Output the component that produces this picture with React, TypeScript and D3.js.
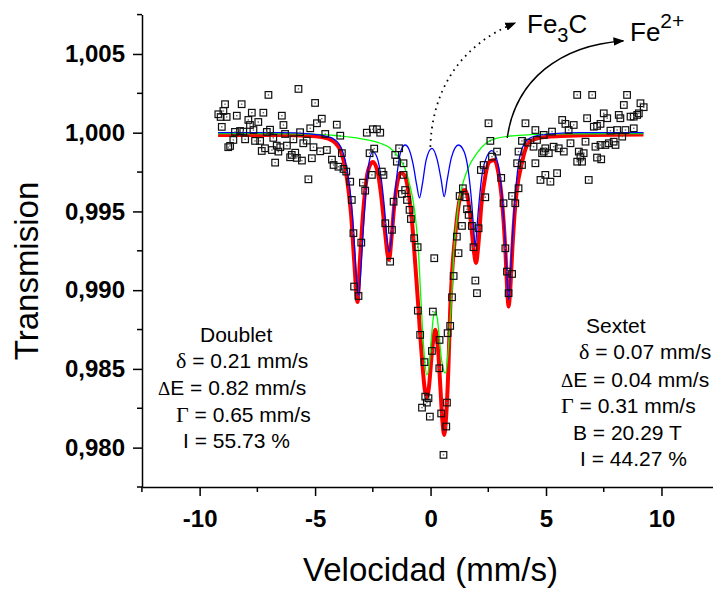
import React, { useEffect, useRef } from 'react';
import * as d3 from 'd3';

// measured spectrum: [velocity mm/s, transmission]
const measured: [number, number][] = [
  [-5.72, 1.00278], [-7.02, 1.0024], [-8.9, 1.00181], [-8.18, 1.00181], [-5.0, 1.00189], [-8.97, 1.00138], [-9.19, 1.00117], [-9.09, 1.001], [-8.83, 1.001], [-8.39, 1.00108],
  [-7.74, 1.00127], [-7.24, 1.00127], [-6.44, 1.00108], [-7.89, 1.00081], [-7.46, 1.00068], [-4.71, 1.00089], [-4.92, 1.0006], [-7.82, 1.00049], [-6.37, 1.00049], [-4.06, 1.00051],
  [-9.04, 1.00037], [-7.67, 1.00017], [-6.95, 1.00019], [-5.21, 1.00028], [-8.47, 1.00005], [-8.25, 1.00011], [-8.11, 1.00007], [-7.09, 1.00005], [-6.3, 0.99992], [-5.65, 1.00003],
  [-4.56, 0.99992], [-3.91, 0.99981], [-8.54, 0.99954], [-8.03, 0.99958], [-7.6, 0.99948], [-7.38, 0.99948], [-6.81, 0.99967], [-5.94, 0.99958], [-5.36, 0.9995], [-5.51, 0.99933],
  [-8.68, 0.99916], [-8.76, 0.99908], [-7.17, 0.99901], [-6.66, 0.99918], [-6.51, 0.99908], [-6.22, 0.99918], [-5.86, 0.99873], [-5.07, 0.99908], [-4.78, 0.99882], [-4.49, 0.9989],
  [-7.31, 0.99884], [-6.87, 0.9989], [-6.59, 0.9988], [-6.01, 0.99859], [-5.79, 0.9984], [-6.08, 0.99844], [-5.57, 0.99823], [-5.14, 0.99838], [-6.73, 0.9981], [-4.27, 0.99829],
  [-4.2, 0.99795], [-3.99, 0.99784], [-3.77, 0.9977], [-5.29, 0.99704],
  [-3.84, 0.9987], [-3.65, 0.99753], [-3.48, 0.99689], [-3.41, 0.99573], [-3.34, 0.99362], [-3.31, 0.99023], [-3.12, 0.98963], [-3.0, 0.99302], [-2.93, 0.99683], [-2.83, 0.99632],
  [-2.54, 0.99732], [-2.64, 0.9987], [-2.44, 0.99899], [-2.76, 1.0], [-2.5, 1.00022], [-2.32, 1.00022], [-2.18, 1.0], [-2.11, 0.99753], [-2.04, 0.99732], [-1.96, 0.99425],
  [-1.67, 0.99383], [-1.6, 0.99562], [-1.75, 0.99181], [-1.46, 0.99816], [-1.53, 0.99859], [-1.36, 0.99901], [-1.17, 0.99806], [-1.17, 0.99732], [-1.24, 0.99611], [-1.1, 0.99636],
  [-1.02, 0.99573], [-0.91, 0.9951], [-0.85, 0.99452], [-0.71, 0.9933], [-0.56, 0.99273], [0.16, 0.99203], [-0.55, 0.9887], [0.1, 0.98864],
  [-0.45, 0.98716], [-0.26, 0.98543], [0.06, 0.98614], [0.38, 0.98504], [-0.23, 0.98324], [-0.09, 0.98314], [-0.16, 0.98286], [-0.37, 0.98254], [-0.03, 0.98197], [0.46, 0.98217],
  [0.39, 0.98684], [0.74, 0.98727], [0.85, 0.98773], [0.71, 0.98286], [0.68, 0.98134], [0.56, 0.97954],
  [2.51, 1.0006], [2.59, 0.99948], [2.66, 0.99848], [2.88, 0.9988], [2.3, 0.99795], [2.18, 0.99763], [3.06, 0.99713], [1.4, 0.99647], [1.26, 0.99598], [1.5, 0.9959],
  [2.37, 0.9959], [1.58, 0.99514], [1.65, 0.99478], [1.36, 0.99408], [1.79, 0.99408], [2.08, 0.99393], [1.14, 0.9934], [1.21, 0.99235], [1.86, 0.99273], [1.0, 0.9909],
  [1.94, 0.99061], [2.01, 0.98981], [0.93, 0.98955], [3.16, 0.99552], [3.24, 0.99266], [3.31, 0.99118], [3.53, 0.99103], [3.38, 0.98981], [3.67, 0.99552], [3.53, 0.99598],
  [3.81, 0.99647], [3.75, 0.99806], [3.96, 0.99795], [3.81, 0.9988], [3.96, 0.99948], [4.2, 0.99937],
  [4.11, 1.0006], [4.54, 1.00017], [4.9, 0.99986], [5.26, 1.00007], [5.7, 1.00081], [5.84, 1.00056], [5.98, 1.00017], [6.2, 1.00049], [6.35, 1.0024], [7.0, 1.0024],
  [6.78, 1.00092], [7.07, 1.00038], [7.21, 1.00043], [7.36, 1.00056], [7.5, 1.00123], [7.65, 1.00092], [7.79, 1.00013], [8.08, 1.00017], [8.15, 1.00113], [8.22, 1.00092],
  [8.37, 1.00176], [8.51, 1.0024], [8.66, 1.00102], [8.8, 1.00102], [8.95, 1.00113], [9.02, 1.00123], [9.09, 1.00187], [9.23, 1.00162], [8.44, 1.00017], [8.8, 1.00028],
  [8.3, 0.99975], [4.97, 0.99901], [5.33, 0.99911], [5.55, 0.99901], [5.77, 0.9988], [4.61, 0.99954], [4.46, 0.99911], [4.9, 0.9988], [4.83, 0.9987], [5.12, 0.9987],
  [4.54, 0.99806], [5.48, 0.99743], [4.97, 0.99732], [4.76, 0.997], [5.19, 0.99689], [6.06, 0.99933], [6.42, 0.9988], [6.49, 0.99848], [6.71, 0.99943], [7.14, 0.99911],
  [7.36, 0.99922], [7.57, 0.99922], [7.72, 0.99933], [7.93, 0.99943], [8.01, 0.99922], [6.63, 0.9987], [6.35, 0.99816], [6.56, 0.99816], [7.21, 0.99842], [7.39, 0.99831],
  [6.85, 0.997],
];

// sextet subspectrum (blue)
const sextetFit: [number, number][] = [
  [-9.2, 1.0], [-6.51, 1.0], [-5.21, 0.99992], [-4.56, 0.99979], [-4.13, 0.99954], [-3.83, 0.9989], [-3.61, 0.99763], [-3.44, 0.99573], [-3.31, 0.99319], [-3.22, 0.99097],
  [-3.12, 0.98957], [-3.03, 0.99097], [-2.94, 0.99319], [-2.83, 0.99573], [-2.7, 0.99776], [-2.5, 0.9988], [-2.31, 0.9984], [-2.14, 0.99713], [-1.99, 0.9951], [-1.88, 0.99319],
  [-1.79, 0.99243], [-1.7, 0.99319], [-1.6, 0.9951], [-1.44, 0.99751], [-1.27, 0.9989], [-1.1, 0.99922], [-0.92, 0.9989], [-0.75, 0.99795], [-0.6, 0.99668], [-0.48, 0.99586],
  [-0.36, 0.99668], [-0.19, 0.99827], [0.06, 0.99901], [0.29, 0.99827], [0.46, 0.997], [0.59, 0.99594], [0.72, 0.997], [0.9, 0.9984], [1.21, 0.99922], [1.46, 0.99878],
  [1.63, 0.99763], [1.79, 0.99541], [1.87, 0.99383], [1.94, 0.99277], [2.0, 0.99383], [2.11, 0.99573], [2.28, 0.99776], [2.66, 0.99886], [2.93, 0.99795], [3.11, 0.99573],
  [3.24, 0.99287], [3.32, 0.99065], [3.38, 0.98938], [3.45, 0.99065], [3.54, 0.99319], [3.67, 0.99605], [3.8, 0.99795], [3.97, 0.99903], [4.19, 0.99954], [4.54, 0.99979],
  [5.19, 0.99992], [6.49, 1.0], [9.22, 1.0],
];

// doublet subspectrum (green)
const doubletFit: [number, number][] = [
  [-9.2, 0.99995], [-5.65, 0.99992], [-3.92, 0.99979], [-3.05, 0.99963], [-2.18, 0.99933], [-1.75, 0.99903], [-1.31, 0.99827], [-1.05, 0.99751], [-0.88, 0.99656], [-0.74, 0.99554],
  [-0.62, 0.99414], [-0.52, 0.99237], [-0.45, 0.99033], [-0.37, 0.98811], [-0.29, 0.98621], [-0.16, 0.98462], [-0.06, 0.98525], [0.03, 0.98684], [0.12, 0.98824], [0.2, 0.98864],
  [0.29, 0.98824], [0.38, 0.98697], [0.49, 0.98544], [0.64, 0.98473], [0.75, 0.98589], [0.85, 0.98811], [0.93, 0.99002], [1.0, 0.99224], [1.11, 0.99414], [1.22, 0.99554],
  [1.36, 0.99656], [1.63, 0.99776], [2.01, 0.99871], [2.41, 0.99935], [2.88, 0.99965], [3.45, 0.99979], [4.18, 0.99986], [5.62, 0.99992], [9.22, 0.99995],
];

// total fit (red)
const totalFit: [number, number][] = [
  [-9.2, 0.99986], [-6.51, 0.99986], [-5.21, 0.99979], [-4.56, 0.99967], [-4.13, 0.99935], [-3.83, 0.99859], [-3.61, 0.997], [-3.44, 0.99478], [-3.31, 0.99192], [-3.16, 0.98925],
  [-3.07, 0.9916], [-2.96, 0.99414], [-2.83, 0.99636], [-2.7, 0.99763], [-2.5, 0.99814], [-2.31, 0.99763], [-2.14, 0.99605], [-1.99, 0.99395], [-1.8, 0.99192], [-1.68, 0.99351],
  [-1.57, 0.99541], [-1.44, 0.99681], [-1.31, 0.99744], [-1.14, 0.99732], [-0.97, 0.99636], [-0.79, 0.99414], [-0.66, 0.9916], [-0.52, 0.98875], [-0.45, 0.98716], [-0.34, 0.98506],
  [-0.25, 0.98367], [-0.16, 0.98316], [-0.06, 0.98398], [0.05, 0.98589], [0.2, 0.98748], [0.31, 0.98652], [0.42, 0.98398], [0.51, 0.98176], [0.59, 0.98081], [0.68, 0.98208],
  [0.77, 0.98494], [0.85, 0.98875], [0.94, 0.99129], [1.07, 0.99351], [1.2, 0.99522], [1.33, 0.99617], [1.5, 0.99636], [1.63, 0.99573], [1.76, 0.99414], [1.87, 0.99256],
  [1.97, 0.99173], [2.07, 0.99287], [2.2, 0.99541], [2.38, 0.99732], [2.54, 0.99814], [2.76, 0.99827], [2.93, 0.99751], [3.11, 0.99541], [3.24, 0.99256], [3.32, 0.99002],
  [3.38, 0.98896], [3.45, 0.99002], [3.54, 0.99256], [3.67, 0.99541], [3.8, 0.997], [3.89, 0.99763], [4.06, 0.99871], [4.23, 0.99935], [4.54, 0.9996], [4.98, 0.99973],
  [5.63, 0.99979], [6.93, 0.99986], [9.22, 0.99989],
];

const xTicks = [-10, -5, 0, 5, 10];
const xMinorTicks = [-12.5, -7.5, -2.5, 2.5, 7.5, 12.5];
const yTicks = [0.98, 0.985, 0.99, 0.995, 1.0, 1.005];
const yMinorTicks = [0.9775, 0.9825, 0.9875, 0.9925, 0.9975, 1.0025, 1.0075];

const doubletLines = [
  { greek: '', text: 'Doublet' },
  { greek: 'δ', text: ' = 0.21 mm/s' },
  { greek: 'Δ', text: 'E = 0.82 mm/s' },
  { greek: 'Γ', text: ' = 0.65 mm/s' },
  { greek: '', text: 'I = 55.73 %' },
];
const sextetLines = [
  { greek: '', text: 'Sextet' },
  { greek: 'δ', text: ' = 0.07 mm/s' },
  { greek: 'Δ', text: 'E = 0.04 mm/s' },
  { greek: 'Γ', text: ' = 0.31 mm/s' },
  { greek: '', text: 'B = 20.29 T' },
  { greek: '', text: 'I = 44.27 %' },
];

const FONT = '"Liberation Sans", Arial, sans-serif';

const App = () => {
  const svgRef = useRef<SVGSVGElement>(null);

  useEffect(() => {
    if (!svgRef.current) return;
    const svg = d3.select(svgRef.current);
    svg.selectAll('*').remove();
    svg.style('font-family', FONT);

    const x = d3.scaleLinear().domain([-12.5, 12.5]).range([141.9, 719.2]);
    const y = d3.scaleLinear().domain([0.9775, 1.0075]).range([487, 14.6]);

    // arrow head
    svg.append('defs').append('marker')
      .attr('id', 'arrowHead')
      .attr('viewBox', '0 0 10 10')
      .attr('refX', 9)
      .attr('refY', 5)
      .attr('markerWidth', 11)
      .attr('markerHeight', 11)
      .attr('markerUnits', 'userSpaceOnUse')
      .attr('orient', 'auto')
      .append('path')
      .attr('d', 'M0,1.2 L10,5 L0,8.8 Z')
      .attr('fill', '#000');

    // axes
    const xAxis = svg.append('g')
      .attr('transform', 'translate(0,487)')
      .call(d3.axisBottom(x).tickValues(xTicks).tickSize(9).tickSizeOuter(0).tickFormat(d => String(d)));
    xAxis.selectAll('text')
      .attr('y', 23)
      .attr('dy', '0.71em')
      .attr('fill', '#000')
      .style('font-size', '24px')
      .style('font-weight', 'bold')
      .style('font-family', FONT);

    xAxis.selectAll('.minor')
      .data(xMinorTicks)
      .enter()
      .append('line')
      .attr('class', 'minor')
      .attr('x1', d => x(d))
      .attr('x2', d => x(d))
      .attr('y1', 0)
      .attr('y2', 5);

    const yAxis = svg.append('g')
      .attr('transform', 'translate(142,0)')
      .call(d3.axisLeft(y).tickValues(yTicks).tickSize(9).tickSizeOuter(0).tickPadding(8)
        .tickFormat(d => d3.format('.3f')(d as number).replace('.', ',')));
    yAxis.selectAll('text')
      .attr('fill', '#000')
      .style('font-size', '24px')
      .style('font-weight', 'bold')
      .style('font-family', FONT);

    yAxis.selectAll('.minor')
      .data(yMinorTicks)
      .enter()
      .append('line')
      .attr('class', 'minor')
      .attr('x1', 0)
      .attr('x2', -5)
      .attr('y1', d => y(d))
      .attr('y2', d => y(d));

    svg.selectAll('.domain, .tick line, .minor')
      .attr('stroke', '#000')
      .attr('stroke-width', 1.5);

    // axis titles
    svg.append('text')
      .attr('transform', 'translate(38,271) rotate(-90)')
      .attr('text-anchor', 'middle')
      .style('font-size', '33px')
      .text('Transmision');

    svg.append('text')
      .attr('x', 430.5)
      .attr('y', 581)
      .attr('text-anchor', 'middle')
      .style('font-size', '33px')
      .text('Velocidad (mm/s)');

    // fitted curves
    const line = d3.line<[number, number]>()
      .x(d => x(d[0]))
      .y(d => y(d[1]))
      .curve(d3.curveMonotoneX);

    svg.append('path').datum(totalFit)
      .attr('d', line).attr('fill', 'none').attr('stroke', '#ff0000').attr('stroke-width', 4);
    svg.append('path').datum(doubletFit)
      .attr('d', line).attr('fill', 'none').attr('stroke', '#00ff00').attr('stroke-width', 1.3);
    svg.append('path').datum(sextetFit)
      .attr('d', line).attr('fill', 'none').attr('stroke', '#0000ff').attr('stroke-width', 1.3);

    // measured points
    const pts = svg.append('g');
    pts.selectAll('rect.pt')
      .data(measured)
      .enter()
      .append('rect')
      .attr('class', 'pt')
      .attr('x', d => x(d[0]) - 3.3)
      .attr('y', d => y(d[1]) - 3.3)
      .attr('width', 6.6)
      .attr('height', 6.6)
      .attr('fill', 'none')
      .attr('stroke', '#111')
      .attr('stroke-width', 1.2);
    pts.selectAll('rect.dot')
      .data(measured)
      .enter()
      .append('rect')
      .attr('class', 'dot')
      .attr('x', d => x(d[0]) - 0.7)
      .attr('y', d => y(d[1]) - 0.7)
      .attr('width', 1.4)
      .attr('height', 1.4)
      .attr('fill', '#666');

    // Fe3C (dotted) and Fe2+ (solid) arrows
    const curveArrow = (p: number[][]) =>
      `M${x(p[0][0])},${y(p[0][1])} C${x(p[1][0])},${y(p[1][1])} ${x(p[2][0])},${y(p[2][1])} ${x(p[3][0])},${y(p[3][1])}`;

    svg.append('path')
      .attr('d', curveArrow([[-0.01, 0.9991], [0.07, 1.00271], [1.28, 1.00557], [3.67, 1.00697]]))
      .attr('fill', 'none')
      .attr('stroke', '#000')
      .attr('stroke-width', 1.8)
      .attr('stroke-dasharray', '1.6 4.6')
      .attr('marker-end', 'url(#arrowHead)');

    svg.append('path')
      .attr('d', curveArrow([[3.32, 0.99967], [3.67, 1.00335], [5.62, 1.00557], [8.35, 1.00583]]))
      .attr('fill', 'none')
      .attr('stroke', '#000')
      .attr('stroke-width', 1.5)
      .attr('marker-end', 'url(#arrowHead)');

    const fe3c = svg.append('text').attr('x', 527).attr('y', 33).style('font-size', '26px');
    fe3c.append('tspan').text('Fe');
    fe3c.append('tspan').attr('dy', 9).style('font-size', '20px').text('3');
    fe3c.append('tspan').attr('dy', -9).text('C');

    const fe2 = svg.append('text').attr('x', 630).attr('y', 41).style('font-size', '26px');
    fe2.append('tspan').text('Fe');
    fe2.append('tspan').attr('dy', -13).style('font-size', '21px').text('2+');

    // parameter blocks
    const block = (lines: { greek: string; text: string }[], xs: number[], ys: number[]) => {
      lines.forEach((ln, i) => {
        const t = svg.append('text')
          .attr('x', xs[i])
          .attr('y', ys[i])
          .style('font-size', '21px');
        if (ln.greek) {
          t.append('tspan')
            .style('font-family', '"Liberation Serif", "Times New Roman", serif')
            .style('font-size', ln.greek === 'Δ' ? '19px' : '22px')
            .text(ln.greek);
        }
        t.append('tspan').text(ln.text);
      });
    };

    block(doubletLines, [200, 176, 158, 176, 183], [341.7, 368.3, 395, 421.7, 447.7]);
    block(sextetLines, [586, 579, 561, 561, 573, 580], [332.7, 359.3, 386.7, 413.3, 440, 466]);
  }, []);

  return (
    <svg
      ref={svgRef}
      width={713}
      height={589}
      style={{ position: 'absolute', left: 0, top: 0, display: 'block', background: '#fff' }}
    />
  );
};

export default App;
